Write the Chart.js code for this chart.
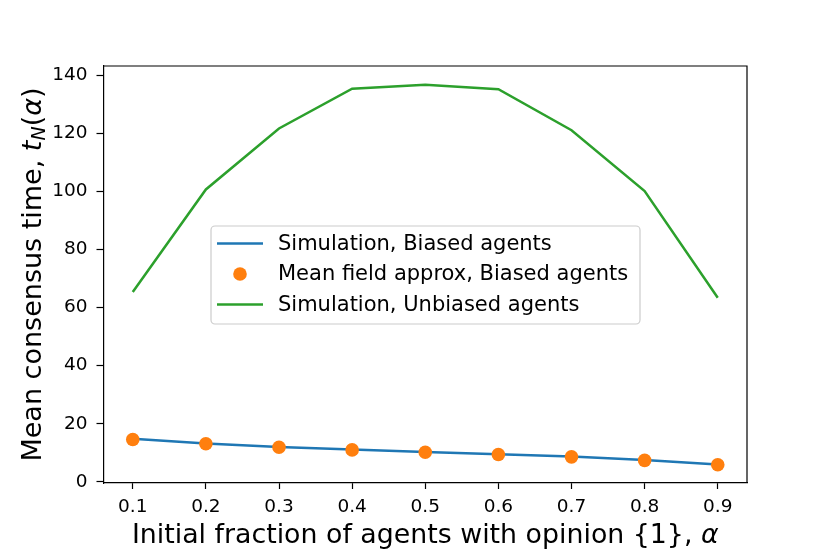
<!DOCTYPE html>
<html>
<head>
<meta charset="utf-8">
<script src="https://cdn.jsdelivr.net/npm/chart.js@4/dist/chart.umd.min.js"></script>
<style>
  html, body { margin: 0; padding: 0; background: #fff; }
  #chart { display: block; }
</style>
</head>
<body>
<canvas id="chart" width="830" height="554"></canvas>
<script>
// data
const alphaValues = [0.1, 0.2, 0.3, 0.4, 0.5, 0.6, 0.7, 0.8, 0.9];
const biasedSim = [14.8, 13.2, 12.0, 11.1, 10.3, 9.5, 8.7, 7.5, 6.0];
const meanField = [14.6, 13.1, 11.9, 11.0, 10.2, 9.4, 8.6, 7.4, 5.9];
const unbiasedSim = [65.4, 100.7, 121.7, 135.4, 136.7, 135.2, 121.1, 100.1, 63.4];

const xTicks = [0.1, 0.2, 0.3, 0.4, 0.5, 0.6, 0.7, 0.8, 0.9];
const yTicks = [0, 20, 40, 60, 80, 100, 120, 140];

const seriesLabels = [
    'Simulation, Biased agents',
    'Mean field approx, Biased agents',
    'Simulation, Unbiased agents'
];

const FONT = "'DejaVu Sans', 'Liberation Sans', sans-serif";

function toPoints(ys) {
    return alphaValues.map((x, i) => ({ x: x, y: ys[i] }));
}

// top & right spines
const framePlugin = {
    id: 'frame',
    afterDraw(chart) {
        const a = chart.chartArea;
        const ctx = chart.ctx;
        ctx.save();
        ctx.strokeStyle = '#000';
        ctx.lineWidth = 1.2;
        ctx.beginPath();
        ctx.moveTo(a.left, a.top);
        ctx.lineTo(a.right, a.top);
        ctx.lineTo(a.right, a.bottom);
        ctx.stroke();
        ctx.restore();
    }
};

// axis titles with mathtext-like pieces
const titlesPlugin = {
    id: 'titles',
    afterDraw(chart) {
        const ctx = chart.ctx;
        const a = chart.chartArea;
        ctx.save();
        ctx.fillStyle = '#000';
        ctx.textBaseline = 'alphabetic';

        // x title
        const xParts = [
            { t: 'Initial fraction of agents with opinion {1}, ', f: '26.8px ' + FONT },
            { t: 'α', f: 'italic 26.8px ' + FONT }
        ];
        drawParts(ctx, xParts, (a.left + a.right) / 2, 543);

        // y title
        ctx.translate(41, (a.top + a.bottom) / 2);
        ctx.rotate(-Math.PI / 2);
        const yParts = [
            { t: 'Mean consensus time, ', f: '27px ' + FONT },
            { t: 't', f: 'italic 27px ' + FONT },
            { t: 'N', f: 'italic 19px ' + FONT, dy: 4 },
            { t: '(', f: '27px ' + FONT },
            { t: 'α', f: 'italic 27px ' + FONT },
            { t: ')', f: '27px ' + FONT }
        ];
        drawParts(ctx, yParts, 0, 0);
        ctx.restore();
    }
};

function drawParts(ctx, parts, cx, baseY) {
    let total = 0;
    parts.forEach(p => { ctx.font = p.f; p.w = ctx.measureText(p.t).width; total += p.w; });
    let x = cx - total / 2;
    ctx.textAlign = 'left';
    parts.forEach(p => {
        ctx.font = p.f;
        ctx.fillText(p.t, x, baseY + (p.dy || 0));
        x += p.w;
    });
}

// legend box inside the axes
const legendPlugin = {
    id: 'boxLegend',
    afterDraw(chart) {
        const ctx = chart.ctx;
        const box = { x: 211, y: 226, w: 429, h: 98 };
        ctx.save();
        ctx.fillStyle = 'rgba(255,255,255,0.8)';
        ctx.strokeStyle = '#cccccc';
        ctx.lineWidth = 1.2;
        ctx.beginPath();
        ctx.roundRect(box.x, box.y, box.w, box.h, 4);
        ctx.fill();
        ctx.stroke();

        ctx.font = '21px ' + FONT;
        ctx.textBaseline = 'middle';
        ctx.textAlign = 'left';
        chart.data.datasets.forEach((ds, i) => {
            const rowY = 243.5 + i * 30.5;
            if (ds.showLine === false) {
                ctx.fillStyle = ds.pointBackgroundColor;
                ctx.beginPath();
                ctx.arc(240, rowY, ds.pointRadius, 0, Math.PI * 2);
                ctx.fill();
            } else {
                ctx.strokeStyle = ds.borderColor;
                ctx.lineWidth = ds.borderWidth;
                ctx.beginPath();
                ctx.moveTo(217, rowY);
                ctx.lineTo(263, rowY);
                ctx.stroke();
            }
            ctx.fillStyle = '#000';
            ctx.fillText(ds.label, 278, rowY + 1);
        });
        ctx.restore();
    }
};

const config = {
    type: 'scatter',
    data: {
        datasets: [
            {
                label: seriesLabels[0],
                data: toPoints(biasedSim),
                showLine: true,
                borderColor: '#1f77b4',
                backgroundColor: '#1f77b4',
                borderWidth: 2.5,
                pointRadius: 0,
                order: 2
            },
            {
                label: seriesLabels[1],
                data: toPoints(meanField),
                showLine: false,
                pointRadius: 6.8,
                pointBackgroundColor: '#ff7f0e',
                pointBorderWidth: 0,
                backgroundColor: '#ff7f0e',
                order: 1
            },
            {
                label: seriesLabels[2],
                data: toPoints(unbiasedSim),
                showLine: true,
                borderColor: '#2ca02c',
                backgroundColor: '#2ca02c',
                borderWidth: 2.5,
                pointRadius: 0,
                order: 3
            }
        ]
    },
    options: {
        responsive: false,
        animation: false,
        devicePixelRatio: 1,
        layout: { padding: { left: 0, right: 83, top: 66, bottom: 0 } },
        plugins: {
            legend: { display: false },
            tooltip: { enabled: false }
        },
        scales: {
            x: {
                type: 'linear',
                min: 0.06,
                max: 0.94,
                afterBuildTicks: (scale) => { scale.ticks = xTicks.map(v => ({ value: v })); },
                afterFit: (scale) => { scale.height = 71; },
                grid: { display: true, drawOnChartArea: false, drawTicks: true, tickLength: 6, tickColor: '#000', tickWidth: 1.2 },
                border: { display: true, color: '#000', width: 1.2 },
                ticks: {
                    color: '#000',
                    padding: 7,
                    maxRotation: 0,
                    autoSkip: false,
                    font: { family: FONT, size: 18.5 },
                    callback: (v) => v.toFixed(1)
                }
            },
            y: {
                type: 'linear',
                min: -0.4,
                max: 143.2,
                afterBuildTicks: (scale) => { scale.ticks = yTicks.map(v => ({ value: v })); },
                afterFit: (scale) => { scale.width = 103.5; },
                grid: { display: true, drawOnChartArea: false, drawTicks: true, tickLength: 7, tickColor: '#000', tickWidth: 1.2 },
                border: { display: true, color: '#000', width: 1.2 },
                ticks: {
                    color: '#000',
                    padding: 9,
                    autoSkip: false,
                    font: { family: FONT, size: 18.5 },
                    callback: (v) => String(v)
                }
            }
        }
    },
    plugins: [framePlugin, titlesPlugin, legendPlugin]
};

new Chart(document.getElementById('chart').getContext('2d'), config);
</script>
</body>
</html>
